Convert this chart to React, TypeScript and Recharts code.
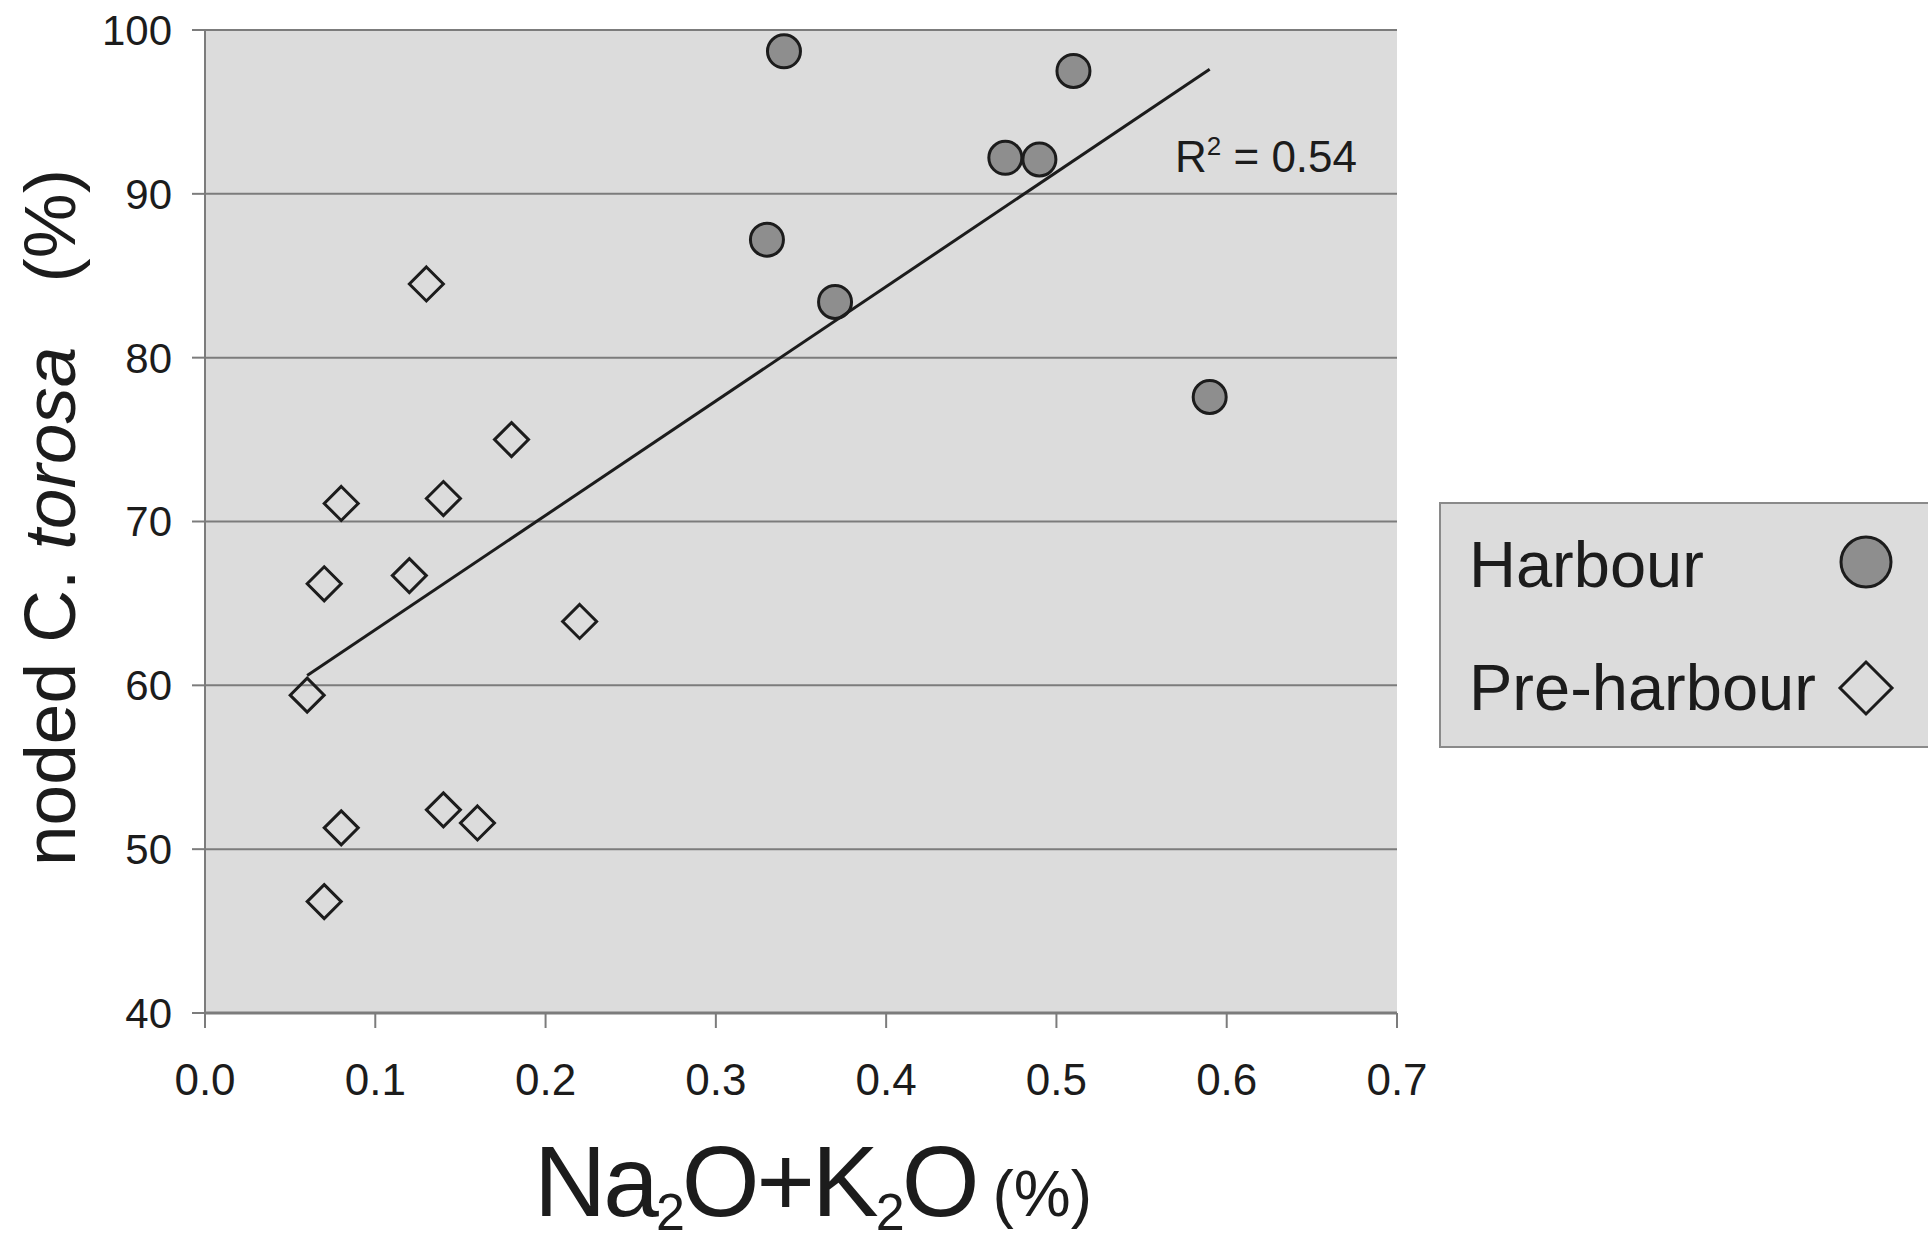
import { CartesianGrid, Customized, Legend, Scatter, ScatterChart, XAxis, YAxis } from "recharts";

const HARBOUR_X = [0.34, 0.51, 0.47, 0.49, 0.33, 0.37, 0.59];
const HARBOUR_Y = [98.7, 97.5, 92.2, 92.1, 87.2, 83.4, 77.6];

const PRE_HARBOUR_X = [0.13, 0.18, 0.08, 0.14, 0.07, 0.12, 0.22, 0.06, 0.14, 0.16, 0.08, 0.07];
const PRE_HARBOUR_Y = [84.5, 75.0, 71.1, 71.4, 66.2, 66.7, 63.9, 59.4, 52.4, 51.6, 51.3, 46.8];

// fitted line as drawn in the figure (end points)
const TREND_X = [0.06, 0.59];
const TREND_Y = [60.6, 97.6];
const R_SQUARED = "0.54";

const X_TICKS = [0, 0.1, 0.2, 0.3, 0.4, 0.5, 0.6, 0.7];
const Y_TICKS = [40, 50, 60, 70, 80, 90, 100];

const SERIES_NAMES = ["Harbour", "Pre-harbour"];

const FONT = "'Liberation Sans', Arial, Helvetica, sans-serif";
const INK = "#1c1c1c";
const GRID = "#7c7c7c";
const PANEL = "#dcdcdc";

const harbour = HARBOUR_X.map((x, i) => ({ x, y: HARBOUR_Y[i] }));
const preHarbour = PRE_HARBOUR_X.map((x, i) => ({ x, y: PRE_HARBOUR_Y[i] }));
const trend = TREND_X.map((x, i) => ({ x, y: TREND_Y[i] }));

function CircleMarker({ cx, cy, r = 16.5 }: { cx?: number; cy?: number; r?: number }) {
  return <circle cx={cx} cy={cy} r={r} fill="#8e8e8e" stroke={INK} strokeWidth={3} />;
}

function DiamondMarker({ cx = 0, cy = 0, h = 17 }: { cx?: number; cy?: number; h?: number }) {
  return (
    <path
      d={`M${cx},${cy - h}L${cx + h},${cy}L${cx},${cy + h}L${cx - h},${cy}Z`}
      fill="none"
      stroke={INK}
      strokeWidth={3}
      strokeLinejoin="miter"
    />
  );
}

function NoMarker() {
  return <g />;
}

function XTitle({ viewBox }: { viewBox?: { x: number; y: number; width: number; height: number } }) {
  if (!viewBox) return null;
  const x = viewBox.x + viewBox.width / 2 + 12;
  const y = viewBox.y + 203;
  return (
    <text x={x} y={y} textAnchor="middle" fontFamily={FONT} fill={INK} fontSize={100} letterSpacing={-3}>
      <tspan>Na</tspan>
      <tspan fontSize={52} dy={14}>2</tspan>
      <tspan dy={-14}>O+K</tspan>
      <tspan fontSize={52} dy={14}>2</tspan>
      <tspan dy={-14}>O</tspan>
      <tspan fontSize={64} letterSpacing={0} dx={16}>(%)</tspan>
    </text>
  );
}

function YTitle({ viewBox }: { viewBox?: { x: number; y: number; width: number; height: number } }) {
  if (!viewBox) return null;
  const x = viewBox.x + 75;
  const y = viewBox.y + viewBox.height / 2 - 4;
  return (
    <text
      x={x}
      y={y}
      textAnchor="middle"
      transform={`rotate(-90, ${x}, ${y})`}
      fontFamily={FONT}
      fill={INK}
      fontSize={73}
    >
      <tspan>noded C. </tspan>
      <tspan fontStyle="italic">torosa</tspan>
      <tspan dx={64}>(%)</tspan>
    </text>
  );
}

function RSquared() {
  return (
    <text x={1175} y={172} fontFamily={FONT} fill={INK} fontSize={44}>
      R
      <tspan fontSize={26} dy={-17}>2</tspan>
      <tspan dy={17}>{` = ${R_SQUARED}`}</tspan>
    </text>
  );
}

function LegendBox() {
  return (
    <svg width={489} height={246} style={{ display: "block" }}>
      <rect x={1} y={1} width={500} height={244} fill={PANEL} stroke="#8a8a8a" strokeWidth={2} />
      <text x={30} y={85} fontFamily={FONT} fontSize={65} fill={INK}>
        {SERIES_NAMES[0]}
      </text>
      <CircleMarker cx={427} cy={60} r={25} />
      <text x={30} y={208} fontFamily={FONT} fontSize={65} fill={INK}>
        {SERIES_NAMES[1]}
      </text>
      <DiamondMarker cx={427} cy={186} h={26} />
    </svg>
  );
}

export default function App() {
  return (
    <div style={{ width: 1928, height: 1246, background: "#fff" }}>
      <style>{"body{margin:0}"}</style>
      <ScatterChart width={1928} height={1246} margin={{ top: 30, right: 531, bottom: 0, left: 0 }}>
        <CartesianGrid horizontal vertical={false} fill={PANEL} stroke={GRID} strokeWidth={2} strokeOpacity={1} />
        <XAxis
          type="number"
          dataKey="x"
          domain={[0, 0.7]}
          ticks={X_TICKS}
          interval={0}
          allowDataOverflow
          tickFormatter={(v) => Number(v).toFixed(1)}
          height={233}
          tickSize={15}
          tickMargin={36}
          axisLine={{ stroke: GRID, strokeWidth: 3 }}
          tickLine={{ stroke: GRID, strokeWidth: 2 }}
          tick={{ fill: INK, fontSize: 44, fontFamily: FONT }}
          label={<XTitle />}
        />
        <YAxis
          type="number"
          dataKey="y"
          domain={[40, 100]}
          ticks={Y_TICKS}
          interval={0}
          allowDataOverflow
          width={205}
          tickSize={13}
          tickMargin={20}
          axisLine={{ stroke: GRID, strokeWidth: 2 }}
          tickLine={{ stroke: GRID, strokeWidth: 2 }}
          tick={{ fill: INK, fontSize: 42, fontFamily: FONT }}
          label={<YTitle />}
        />
        <Scatter name={SERIES_NAMES[0]} data={harbour} shape={<CircleMarker />} isAnimationActive={false} />
        <Scatter name={SERIES_NAMES[1]} data={preHarbour} shape={<DiamondMarker />} isAnimationActive={false} />
        <Scatter
          name="trend"
          data={trend}
          line={{ stroke: INK, strokeWidth: 3 }}
          shape={<NoMarker />}
          legendType="none"
          isAnimationActive={false}
        />
        <Customized component={RSquared} />
        <Legend
          layout="vertical"
          align="center"
          verticalAlign="middle"
          content={<LegendBox />}
          wrapperStyle={{ left: 1439, top: 502, width: 489, height: 246 }}
        />
      </ScatterChart>
    </div>
  );
}
